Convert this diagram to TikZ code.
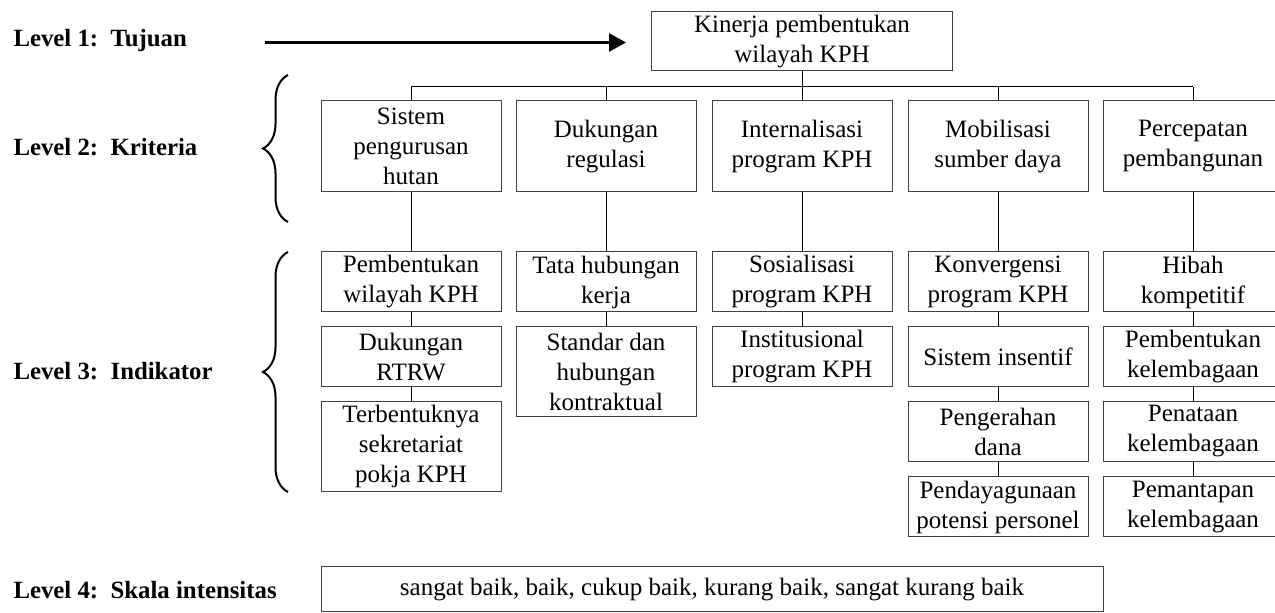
\documentclass[tikz,border=0pt]{standalone}
\usepackage{fontspec}
\setmainfont{Liberation Serif}
\usepackage{tikz}
\usetikzlibrary{arrows.meta,decorations.pathreplacing}

\begin{document}
\begin{tikzpicture}[x=0.5pt, y=-0.5pt, line width=0.5pt]
      \tikzstyle{kotak}=[draw=black!75, align=center, inner sep=0pt, minimum width=90pt, font=\fontsize{12.5}{15}\selectfont]
      \tikzstyle{tujuan box}=[kotak, minimum width=150.5pt, minimum height=29.5pt]
      \tikzstyle{kriteria}=[kotak, minimum height=45.5pt]
      \tikzstyle{indikator}=[kotak, minimum height=30pt]
      \tikzstyle{indikator3}=[kotak, minimum height=45pt]
      \tikzstyle{level}=[anchor=west, inner sep=0pt, font=\fontsize{12.4}{14}\selectfont\bfseries]
      \tikzstyle{kurung}=[decorate, decoration={brace, amplitude=12.5pt}, line width=1pt]

      \useasboundingbox (0,0) rectangle (1275,613);

      % level labels
      \node[level] (L1) at (13,41) {Level 1:\, Tujuan};
      \node[level] (L2) at (13,147) {Level 2:\, Kriteria};
      \node[level] (L3) at (13,371) {Level 3:\, Indikator};
      \node[level] (L4) at (13,590) {Level 4:\, Skala intensitas};

      % goal
      \node[tujuan box] (tujuan) at (802,41.5) {Kinerja pembentukan\\wilayah KPH};
      \coordinate (panahAwal) at (265,42.5);
      \draw[line width=1.35pt, -{Triangle[length=8.5pt,width=9pt]}, shorten >=12.5pt] (panahAwal) -- (panahAwal -| tujuan.west);

      % criteria
      \node[kriteria] (K1) at (411,146.5) {Sistem\\pengurusan\\hutan};
      \node[kriteria] (K2) at (606,146.5) {Dukungan\\regulasi};
      \node[kriteria] (K3) at (802,146.5) {Internalisasi\\program KPH};
      \node[kriteria] (K4) at (998,146.5) {Mobilisasi\\sumber daya};
      \node[kriteria] (K5) at (1193,146.5) {Percepatan\\pembangunan};

      \coordinate (busL) at (411,87);
      \coordinate (busR) at (1193,87);
      \draw (busL) -- (busR);
      \draw (tujuan.south) -- (tujuan.south |- busL);
      \foreach \k in {1,...,5}
        \draw (K\k.north) -- (K\k.north |- busL);

      % indicators
      \node[indikator] (I11) at (411,282) {Pembentukan\\wilayah KPH};
      \node[indikator] (I12) at (411,357) {Dukungan\\RTRW};
      \node[indikator3] (I13) at (411,446.5) {Terbentuknya\\sekretariat\\pokja KPH};

      \node[indikator] (I21) at (606,282) {Tata hubungan\\kerja};
      \node[indikator3] (I22) at (606,372) {Standar dan\\hubungan\\kontraktual};

      \node[indikator] (I31) at (802,282) {Sosialisasi\\program KPH};
      \node[indikator] (I32) at (802,357) {Institusional\\program KPH};

      \node[indikator] (I41) at (998,282) {Konvergensi\\program KPH};
      \node[indikator] (I42) at (998,357) {Sistem insentif};
      \node[indikator] (I43) at (998,431.5) {Pengerahan\\dana};
      \node[indikator] (I44) at (998,507) {Pendayagunaan\\potensi personel};

      \node[indikator] (I51) at (1193,282) {Hibah\\kompetitif};
      \node[indikator] (I52) at (1193,357) {Pembentukan\\kelembagaan};
      \node[indikator] (I53) at (1193,431.5) {Penataan\\kelembagaan};
      \node[indikator] (I54) at (1193,507) {Pemantapan\\kelembagaan};

      \foreach \k in {1,...,5}
        \draw (K\k) -- (I\k1);
      \foreach \a/\b in {I11/I12, I12/I13, I21/I22, I31/I32, I41/I42, I42/I43, I43/I44, I51/I52, I52/I53, I53/I54}
        \draw (\a) -- (\b);

      % intensity scale
      \node[kotak, minimum width=391pt, minimum height=22.5pt] (skala) at (712,589.5) {sangat baik, baik, cukup baik, kurang baik, sangat kurang baik};

      % braces
      \coordinate (kurung2a) at (288,222);
      \coordinate (kurung2b) at (288,75);
      \coordinate (kurung3a) at (288,492);
      \coordinate (kurung3b) at (288,252);
      \draw[kurung] (kurung2a) -- (kurung2b);
      \draw[kurung] (kurung3a) -- (kurung3b);
\end{tikzpicture}
\end{document}
